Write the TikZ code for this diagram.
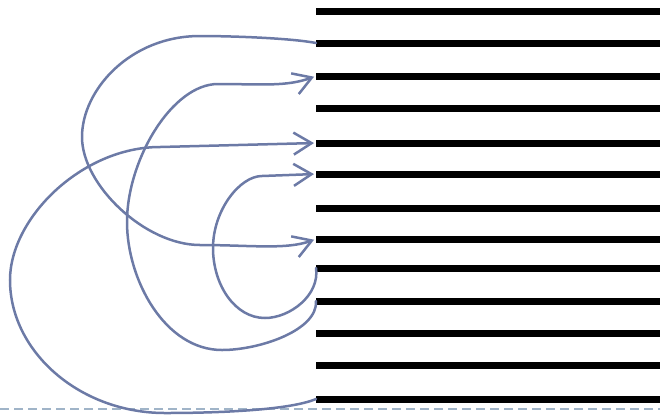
\documentclass[tikz,border=0pt]{standalone}
\usetikzlibrary{arrows.meta}
\definecolor{curvecol}{RGB}{108,122,166}
\definecolor{dashcol}{RGB}{160,180,200}
\tikzset{
  bar/.style={fill=black, draw=none, inner sep=0pt, outer sep=0pt,
              minimum width=344pt, minimum height=7pt, anchor=west},
  link/.style={draw=curvecol, line width=2.5pt, line cap=round},
  tipped/.style={link, -{Straight Barb[length=18pt,width=22pt,line width=2.5pt]}, shorten >=2pt},
  baseline dash/.style={draw=dashcol, line width=2pt, dash pattern=on 9pt off 5pt}
}
\begin{document}
\begin{tikzpicture}[x=1pt,y=-1pt]
\useasboundingbox (0,0) rectangle (660,416);
% dashed base line
\coordinate (dl) at (0,409);
\coordinate (dr) at (660,409);
\draw[baseline dash] (dl) -- (dr);
% bars
\foreach \i/\y in {1/11,2/43,3/76,4/108,5/143,6/174,7/208,8/239,9/268,10/301,11/333,12/365,13/399}
  \node[bar] (b\i) at (316,\y) {};
% curve 1: bar 2 -> bar 8
\draw[tipped] (b2.west) .. controls (290,38) and (230,36) .. (200,36)
  .. controls (130,36) and (82,90) .. (82,137)
  .. controls (82,185) and (145,245) .. (200,245)
  .. controls (250,245) and (286,250) .. (b8.west);
% curve 2: bar 10 -> bar 3
\draw[tipped] (b10.west) .. controls (318,330) and (260,350) .. (222,350)
  .. controls (165,350) and (127,280) .. (127,222)
  .. controls (127,160) and (172,84) .. (218,84)
  .. controls (260,84) and (286,87) .. (b3.west);
% curve 3: bar 13 -> bar 5
\draw[tipped] (b13.west) .. controls (290,410) and (220,413) .. (165,413)
  .. controls (80,413) and (10,352) .. (10,280)
  .. controls (10,218) and (82,147) .. (160,147)
  -- (b5.west);
% curve 4: bar 9 -> bar 6
\draw[tipped] (b9.west) .. controls (320,295) and (290,318) .. (265,318)
  .. controls (235,318) and (213,285) .. (213,248)
  .. controls (213,210) and (240,176) .. (262,176)
  -- (b6.west);
\end{tikzpicture}
\end{document}
